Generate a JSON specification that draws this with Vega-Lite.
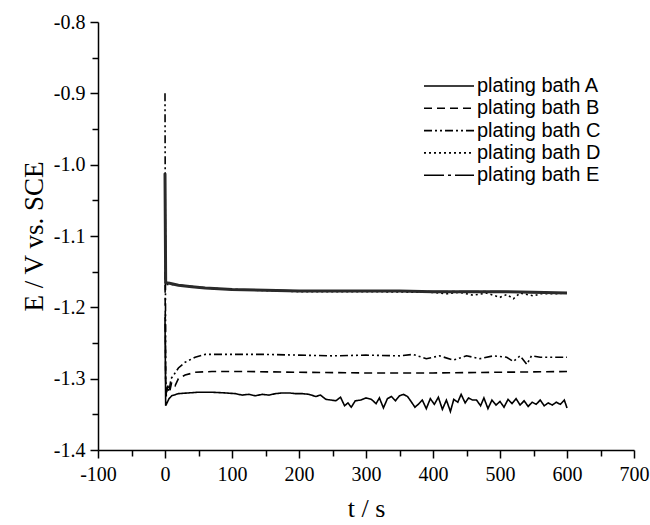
{
  "$schema": "https://vega.github.io/schema/vega-lite/v6.json",
  "width": 536,
  "height": 428,
  "autosize": {"type": "none"},
  "padding": {"left": 98, "top": 22, "right": 16, "bottom": 75},
  "background": "white",
  "config": {
    "view": {"stroke": null},
    "axis": {
      "domainColor": "black",
      "domainWidth": 1.5,
      "tickColor": "black",
      "tickWidth": 1.5,
      "grid": false,
      "labelFont": "Liberation Serif",
      "labelFontSize": 20,
      "labelColor": "black",
      "titleFont": "Liberation Serif",
      "titleFontSize": 26,
      "titleFontWeight": "normal",
      "titleColor": "black"
    }
  },
  "datasets": {
    "curves": [
      {"s": "A", "t": 0, "E": -1.214}, {"s": "A", "t": 1, "E": -1.338}, {"s": "A", "t": 3, "E": -1.334}, {"s": "A", "t": 6, "E": -1.328}, {"s": "A", "t": 10, "E": -1.324}, {"s": "A", "t": 20, "E": -1.321}, {"s": "A", "t": 35, "E": -1.32}, {"s": "A", "t": 50, "E": -1.319}, {"s": "A", "t": 70, "E": -1.319}, {"s": "A", "t": 90, "E": -1.32}, {"s": "A", "t": 105, "E": -1.321}, {"s": "A", "t": 115, "E": -1.323}, {"s": "A", "t": 125, "E": -1.322}, {"s": "A", "t": 135, "E": -1.324}, {"s": "A", "t": 145, "E": -1.322}, {"s": "A", "t": 155, "E": -1.323}, {"s": "A", "t": 165, "E": -1.321}, {"s": "A", "t": 175, "E": -1.32}, {"s": "A", "t": 185, "E": -1.32}, {"s": "A", "t": 195, "E": -1.321}, {"s": "A", "t": 205, "E": -1.321}, {"s": "A", "t": 215, "E": -1.322}, {"s": "A", "t": 225, "E": -1.325}, {"s": "A", "t": 232, "E": -1.323}, {"s": "A", "t": 240, "E": -1.329}, {"s": "A", "t": 248, "E": -1.33}, {"s": "A", "t": 255, "E": -1.331}, {"s": "A", "t": 262, "E": -1.326}, {"s": "A", "t": 268, "E": -1.338}, {"s": "A", "t": 273, "E": -1.334}, {"s": "A", "t": 278, "E": -1.34}, {"s": "A", "t": 284, "E": -1.331}, {"s": "A", "t": 292, "E": -1.33}, {"s": "A", "t": 300, "E": -1.327}, {"s": "A", "t": 308, "E": -1.329}, {"s": "A", "t": 315, "E": -1.335}, {"s": "A", "t": 320, "E": -1.327}, {"s": "A", "t": 326, "E": -1.341}, {"s": "A", "t": 332, "E": -1.328}, {"s": "A", "t": 338, "E": -1.325}, {"s": "A", "t": 344, "E": -1.331}, {"s": "A", "t": 350, "E": -1.324}, {"s": "A", "t": 356, "E": -1.322}, {"s": "A", "t": 362, "E": -1.325}, {"s": "A", "t": 368, "E": -1.333}, {"s": "A", "t": 373, "E": -1.34}, {"s": "A", "t": 378, "E": -1.336}, {"s": "A", "t": 384, "E": -1.33}, {"s": "A", "t": 390, "E": -1.342}, {"s": "A", "t": 396, "E": -1.328}, {"s": "A", "t": 402, "E": -1.336}, {"s": "A", "t": 408, "E": -1.326}, {"s": "A", "t": 414, "E": -1.343}, {"s": "A", "t": 420, "E": -1.33}, {"s": "A", "t": 426, "E": -1.346}, {"s": "A", "t": 431, "E": -1.329}, {"s": "A", "t": 437, "E": -1.333}, {"s": "A", "t": 442, "E": -1.322}, {"s": "A", "t": 448, "E": -1.334}, {"s": "A", "t": 453, "E": -1.327}, {"s": "A", "t": 459, "E": -1.33}, {"s": "A", "t": 465, "E": -1.33}, {"s": "A", "t": 471, "E": -1.338}, {"s": "A", "t": 476, "E": -1.327}, {"s": "A", "t": 482, "E": -1.342}, {"s": "A", "t": 488, "E": -1.33}, {"s": "A", "t": 494, "E": -1.337}, {"s": "A", "t": 500, "E": -1.332}, {"s": "A", "t": 506, "E": -1.34}, {"s": "A", "t": 512, "E": -1.329}, {"s": "A", "t": 518, "E": -1.335}, {"s": "A", "t": 524, "E": -1.328}, {"s": "A", "t": 530, "E": -1.337}, {"s": "A", "t": 536, "E": -1.331}, {"s": "A", "t": 542, "E": -1.339}, {"s": "A", "t": 548, "E": -1.333}, {"s": "A", "t": 554, "E": -1.336}, {"s": "A", "t": 560, "E": -1.33}, {"s": "A", "t": 566, "E": -1.338}, {"s": "A", "t": 572, "E": -1.334}, {"s": "A", "t": 578, "E": -1.337}, {"s": "A", "t": 584, "E": -1.333}, {"s": "A", "t": 590, "E": -1.336}, {"s": "A", "t": 596, "E": -1.33}, {"s": "A", "t": 600, "E": -1.341},
      {"s": "B", "t": 0, "E": -1.15}, {"s": "B", "t": 1, "E": -1.3}, {"s": "B", "t": 2, "E": -1.325}, {"s": "B", "t": 4, "E": -1.31}, {"s": "B", "t": 7, "E": -1.318}, {"s": "B", "t": 10, "E": -1.305}, {"s": "B", "t": 15, "E": -1.31}, {"s": "B", "t": 20, "E": -1.3}, {"s": "B", "t": 30, "E": -1.295}, {"s": "B", "t": 45, "E": -1.291}, {"s": "B", "t": 70, "E": -1.29}, {"s": "B", "t": 120, "E": -1.29}, {"s": "B", "t": 200, "E": -1.291}, {"s": "B", "t": 300, "E": -1.292}, {"s": "B", "t": 400, "E": -1.292}, {"s": "B", "t": 500, "E": -1.291}, {"s": "B", "t": 600, "E": -1.29},
      {"s": "C", "t": 0, "E": -0.9}, {"s": "C", "t": 1, "E": -1.3}, {"s": "C", "t": 2, "E": -1.32}, {"s": "C", "t": 4, "E": -1.31}, {"s": "C", "t": 6, "E": -1.318}, {"s": "C", "t": 9, "E": -1.3}, {"s": "C", "t": 13, "E": -1.295}, {"s": "C", "t": 20, "E": -1.285}, {"s": "C", "t": 30, "E": -1.277}, {"s": "C", "t": 45, "E": -1.27}, {"s": "C", "t": 60, "E": -1.266}, {"s": "C", "t": 100, "E": -1.266}, {"s": "C", "t": 150, "E": -1.266}, {"s": "C", "t": 200, "E": -1.267}, {"s": "C", "t": 250, "E": -1.268}, {"s": "C", "t": 300, "E": -1.267}, {"s": "C", "t": 350, "E": -1.268}, {"s": "C", "t": 370, "E": -1.266}, {"s": "C", "t": 390, "E": -1.272}, {"s": "C", "t": 410, "E": -1.268}, {"s": "C", "t": 430, "E": -1.274}, {"s": "C", "t": 450, "E": -1.268}, {"s": "C", "t": 470, "E": -1.272}, {"s": "C", "t": 490, "E": -1.268}, {"s": "C", "t": 510, "E": -1.27}, {"s": "C", "t": 520, "E": -1.276}, {"s": "C", "t": 530, "E": -1.268}, {"s": "C", "t": 540, "E": -1.28}, {"s": "C", "t": 547, "E": -1.268}, {"s": "C", "t": 560, "E": -1.27}, {"s": "C", "t": 600, "E": -1.27},
      {"s": "D", "t": 0, "E": -1.05}, {"s": "D", "t": 1, "E": -1.168}, {"s": "D", "t": 10, "E": -1.168}, {"s": "D", "t": 50, "E": -1.172}, {"s": "D", "t": 100, "E": -1.175}, {"s": "D", "t": 200, "E": -1.178}, {"s": "D", "t": 300, "E": -1.178}, {"s": "D", "t": 400, "E": -1.179}, {"s": "D", "t": 420, "E": -1.181}, {"s": "D", "t": 440, "E": -1.179}, {"s": "D", "t": 460, "E": -1.183}, {"s": "D", "t": 480, "E": -1.18}, {"s": "D", "t": 500, "E": -1.186}, {"s": "D", "t": 510, "E": -1.182}, {"s": "D", "t": 520, "E": -1.188}, {"s": "D", "t": 530, "E": -1.18}, {"s": "D", "t": 550, "E": -1.184}, {"s": "D", "t": 560, "E": -1.181}, {"s": "D", "t": 580, "E": -1.181}, {"s": "D", "t": 600, "E": -1.18},
      {"s": "E", "t": 0, "E": -1.012}, {"s": "E", "t": 1, "E": -1.165}, {"s": "E", "t": 5, "E": -1.166}, {"s": "E", "t": 20, "E": -1.169}, {"s": "E", "t": 40, "E": -1.171}, {"s": "E", "t": 60, "E": -1.173}, {"s": "E", "t": 80, "E": -1.174}, {"s": "E", "t": 100, "E": -1.175}, {"s": "E", "t": 150, "E": -1.176}, {"s": "E", "t": 200, "E": -1.177}, {"s": "E", "t": 250, "E": -1.177}, {"s": "E", "t": 300, "E": -1.177}, {"s": "E", "t": 350, "E": -1.177}, {"s": "E", "t": 400, "E": -1.178}, {"s": "E", "t": 450, "E": -1.178}, {"s": "E", "t": 500, "E": -1.178}, {"s": "E", "t": 550, "E": -1.179}, {"s": "E", "t": 600, "E": -1.18}
    ]
  },
  "data": {"name": "curves"},
  "encoding": {
    "x": {
      "field": "t", "type": "quantitative",
      "scale": {"domain": [-100, 700], "nice": false, "zero": false},
      "axis": {
        "title": "t / s",
        "values": [-100, -50, 0, 50, 100, 150, 200, 250, 300, 350, 400, 450, 500, 550, 600, 650, 700],
        "labelExpr": "datum.value % 100 == 0 ? replace(format(datum.value, 'd'), '\u2212', '-') : ''",
        "tickSize": {"condition": {"test": "datum.value % 100 == 0", "value": 8}, "value": 6},
        "labelPadding": 6,
        "titlePadding": 11,
        "labelFlush": false,
        "labelOverlap": false
      }
    },
    "y": {
      "field": "E", "type": "quantitative",
      "scale": {"domain": [-1.4, -0.8], "nice": false, "zero": false},
      "axis": {
        "title": "E / V vs. SCE",
        "titleFontSize": 27,
        "values": [-1.4, -1.35, -1.3, -1.25, -1.2, -1.15, -1.1, -1.05, -1.0, -0.95, -0.9, -0.85, -0.8],
        "labelExpr": "abs(datum.value * 10 - round(datum.value * 10)) < 0.01 ? replace(format(datum.value, '.1f'), '\u2212', '-') : ''",
        "tickSize": {"condition": {"test": "abs(datum.value * 10 - round(datum.value * 10)) < 0.01", "value": 8}, "value": 6},
        "labelPadding": 5,
        "titlePadding": 5,
        "labelFlush": false,
        "labelOverlap": false
      }
    }
  },
  "layer": [
    {
      "mark": {"type": "line", "color": "black", "strokeWidth": 1.6},
      "encoding": {
        "detail": {"field": "s"},
        "strokeDash": {
          "field": "s", "type": "nominal",
          "scale": {"domain": ["A", "B", "C", "D", "E"], "range": [[1, 0], [8, 5], [8, 3, 2, 3, 2, 3], [2, 3], [20, 4, 3, 4]]},
          "legend": {
            "title": null,
            "orient": "none",
            "legendX": 341,
            "legendY": 54,
            "padding": 0,
            "symbolType": "M-5,0L5,0",
            "symbolSize": 100,
            "symbolStrokeWidth": 1.6,
            "symbolStrokeColor": "black",
            "symbolFillColor": "transparent",
            "labelFont": "Liberation Sans",
            "labelFontSize": 20,
            "labelColor": "black",
            "labelOffset": 18,
            "rowPadding": 2.3,
            "labelExpr": "'plating bath ' + datum.label"
          }
        }
      }
    },
    {
      "transform": [{"filter": "datum.s == 'E'"}],
      "mark": {"type": "line", "color": "#2a2a2a", "strokeWidth": 3}
    }
  ]
}
